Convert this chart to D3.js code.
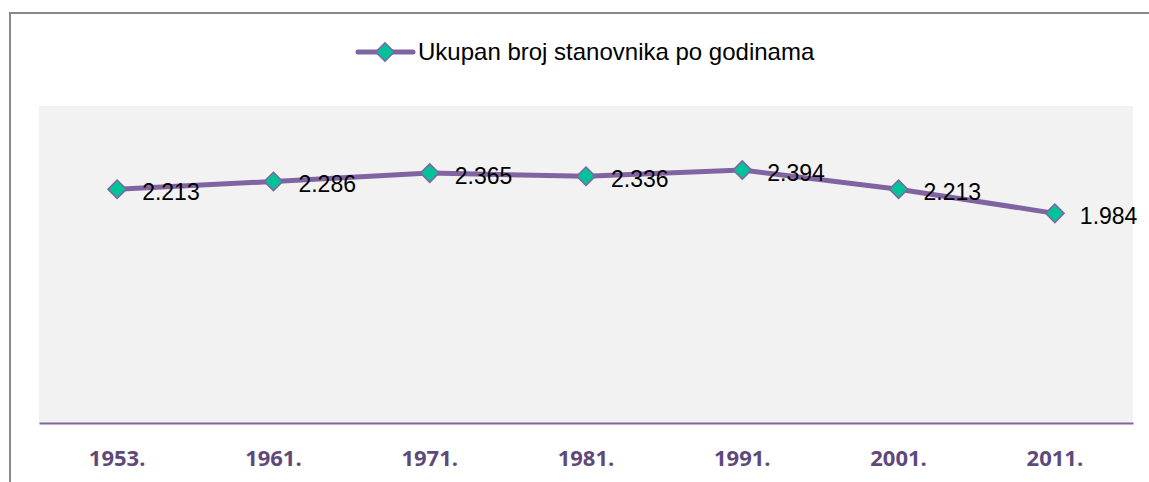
<!DOCTYPE html>
<html lang="hr">
<head>
<meta charset="utf-8">
<title>Ukupan broj stanovnika po godinama</title>
<style>
  body { margin: 0; background: #fff; overflow: hidden; }
  svg { display: block; font-family: "Liberation Sans", Arial, sans-serif; }
</style>
</head>
<body>
<svg width="1149" height="482"></svg>
<script src="https://d3js.org/d3.v7.min.js"></script>
<script>
var years = ["1953.", "1961.", "1971.", "1981.", "1991.", "2001.", "2011."];
var population = [2213, 2286, 2365, 2336, 2394, 2213, 1984];
var seriesName = "Ukupan broj stanovnika po godinama";

var svg = d3.select("svg");
var plot = { left: 39, right: 1133, top: 106, bottom: 423 };

// chart frame: only top and left edges are visible
svg.append("path")
    .attr("d", "M10,482V13H1149")
    .attr("fill", "none")
    .attr("stroke", "#888").attr("stroke-width", 2);

svg.append("rect")
    .attr("x", plot.left).attr("y", plot.top)
    .attr("width", plot.right - plot.left).attr("height", plot.bottom - plot.top)
    .attr("fill", "#f2f2f2");

var x = d3.scaleBand().domain(years).range([plot.left, plot.right]);
var y = d3.scaleLinear().domain([0, 3000]).range([plot.bottom, plot.top]);

var xAxis = svg.append("g")
    .attr("transform", "translate(0," + plot.bottom + ")")
    .call(d3.axisBottom(x).tickSize(0).tickPadding(27));
xAxis.select(".domain").attr("stroke", "#8064a2").attr("stroke-width", 2);
xAxis.selectAll("text")
    .attr("fill", "#5f497a")
    .style("font-size", "22px")
    .style("font-weight", "bold")
    .style("font-family", "'Open Sans', 'Liberation Sans', sans-serif");

var pts = years.map(function(d, i) {
  return { year: d, value: population[i], x: x(d) + x.bandwidth() / 2, y: y(population[i]) };
});

svg.append("path")
    .datum(pts)
    .attr("fill", "none")
    .attr("stroke", "#8064a2")
    .attr("stroke-width", 5)
    .attr("stroke-linejoin", "round")
    .attr("d", d3.line().x(function(d) { return d.x; }).y(function(d) { return d.y; }));

var diamond = d3.symbol().type(d3.symbolSquare).size(170);

svg.selectAll(".marker")
    .data(pts)
  .enter().append("path")
    .attr("class", "marker")
    .attr("d", diamond)
    .attr("transform", function(d) { return "translate(" + d.x + "," + d.y + ") rotate(45)"; })
    .attr("fill", "#00c39a")
    .attr("stroke", "#8064a2")
    .attr("stroke-width", 1.5);

var fmt = function(v) { return d3.format(",")(v).replace(/,/g, "."); };

svg.selectAll(".lbl")
    .data(pts)
  .enter().append("text")
    .attr("class", "lbl")
    .attr("x", function(d) { return d.x + 25; })
    .attr("y", function(d) { return d.y + 3; })
    .attr("dy", "0.35em")
    .attr("fill", "#000")
    .style("font-size", "23px")
    .text(function(d) { return fmt(d.value); });

// legend
var lg = svg.append("g").attr("transform", "translate(358,52)");
lg.append("line")
    .attr("x1", 0).attr("x2", 55).attr("y1", 0).attr("y2", 0)
    .attr("stroke", "#8064a2").attr("stroke-width", 5).attr("stroke-linecap", "round");
lg.append("path")
    .attr("d", diamond)
    .attr("transform", "translate(27,0) rotate(45)")
    .attr("fill", "#00c39a")
    .attr("stroke", "#8064a2")
    .attr("stroke-width", 1.5);
lg.append("text")
    .attr("x", 60).attr("y", 0).attr("dy", "0.35em")
    .style("font-size", "24px")
    .attr("fill", "#000")
    .text(seriesName);
</script>
</body>
</html>
